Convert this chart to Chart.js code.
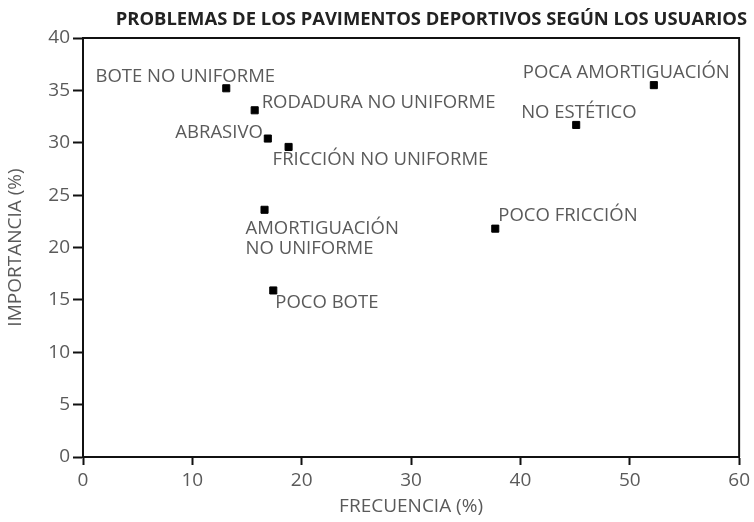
<!DOCTYPE html>
<html>
<head>
<meta charset="utf-8">
<script src="https://cdn.jsdelivr.net/npm/chart.js@4"></script>
<style>
  html, body { margin: 0; padding: 0; background: #fff; }
  #wrap { width: 754px; height: 522px; }
</style>
</head>
<body>
<div id="wrap"><canvas id="chart" width="754" height="522"></canvas></div>
<script>
// Data
const problems = [
  "BOTE NO UNIFORME", "RODADURA NO UNIFORME", "ABRASIVO", "FRICCIÓN NO UNIFORME",
  "AMORTIGUACIÓN\nNO UNIFORME", "POCO BOTE", "POCO FRICCIÓN", "NO ESTÉTICO", "POCA AMORTIGUACIÓN"
];
const frecuencia = [13.1, 15.7, 16.9, 18.8, 16.6, 17.4, 37.7, 45.1, 52.2];
const importancia = [35.2, 33.1, 30.4, 29.6, 23.6, 15.9, 21.8, 31.7, 35.5];

// Where each label sits relative to its point (px)
const labelPlace = [
  { dx: -41, dy: -12, align: "center" },
  { dx: 7, dy: -8, align: "left" },
  { dx: -5, dy: -6, align: "right" },
  { dx: -16, dy: 13, align: "left" },
  { dx: -19, dy: 19, align: "left" },
  { dx: 2, dy: 12, align: "left" },
  { dx: 3, dy: -13, align: "left" },
  { dx: -55, dy: -12, align: "left" },
  { dx: -131, dy: -12, align: "left" }
];

const title = "PROBLEMAS DE LOS PAVIMENTOS DEPORTIVOS SEGÚN LOS USUARIOS";
const textFont = "Open Sans";
const textColor = "#5a5a5a";

// Point labels + frame + title
const extras = {
  id: "extras",
  afterDatasetsDraw(chart) {
    const ctx = chart.ctx;
    const area = chart.chartArea;
    const meta = chart.getDatasetMeta(0);

    ctx.save();
    ctx.strokeStyle = "#111";
    ctx.lineWidth = 2;
    ctx.beginPath();
    ctx.moveTo(area.left, area.top);
    ctx.lineTo(area.right, area.top);
    ctx.lineTo(area.right, area.bottom);
    ctx.stroke();

    ctx.font = `18.5px "${textFont}"`;
    ctx.fillStyle = textColor;
    ctx.textBaseline = "middle";
    meta.data.forEach((pt, i) => {
      const p = labelPlace[i];
      ctx.textAlign = p.align;
      problems[i].split("\n").forEach((line, j) => {
        ctx.fillText(line, pt.x + p.dx, pt.y + p.dy + j * 20);
      });
    });

    ctx.font = `bold 18.4px "${textFont}"`;
    ctx.fillStyle = "#222";
    ctx.textAlign = "right";
    ctx.fillText(title, area.right + 8, 20);
    ctx.restore();
  }
};

new Chart(document.getElementById("chart"), {
  type: "scatter",
  data: {
    datasets: [{
      data: frecuencia.map((x, i) => ({ x, y: importancia[i] })),
      backgroundColor: "#000",
      borderColor: "#000",
      pointStyle: "rect",
      pointRadius: 5,
      pointHoverRadius: 5
    }]
  },
  options: {
    responsive: false,
    animation: false,
    layout: { padding: { top: 38, right: 14, left: 0, bottom: 0 } },
    plugins: { legend: { display: false }, tooltip: { enabled: false } },
    scales: {
      x: {
        min: 0, max: 60,
        ticks: { stepSize: 10, color: textColor, font: { family: textFont, size: 19 }, padding: 4 },
        grid: { drawOnChartArea: false, tickLength: 8, tickColor: "#111", tickWidth: 2 },
        border: { color: "#111", width: 2 },
        title: { display: true, text: "FRECUENCIA (%)", color: textColor, font: { family: textFont, size: 19 }, padding: { top: 2 } },
        afterFit: s => { s.height = 65; }
      },
      y: {
        min: 0, max: 40,
        ticks: { stepSize: 5, color: textColor, font: { family: textFont, size: 19 }, padding: 3 },
        grid: { drawOnChartArea: false, tickLength: 10, tickColor: "#111", tickWidth: 2 },
        border: { color: "#111", width: 2 },
        title: { display: true, text: "IMPORTANCIA (%)", color: textColor, font: { family: textFont, size: 19 }, padding: { bottom: 2 } },
        afterFit: s => { s.width = 83; }
      }
    }
  },
  plugins: [extras]
});
</script>
</body>
</html>
